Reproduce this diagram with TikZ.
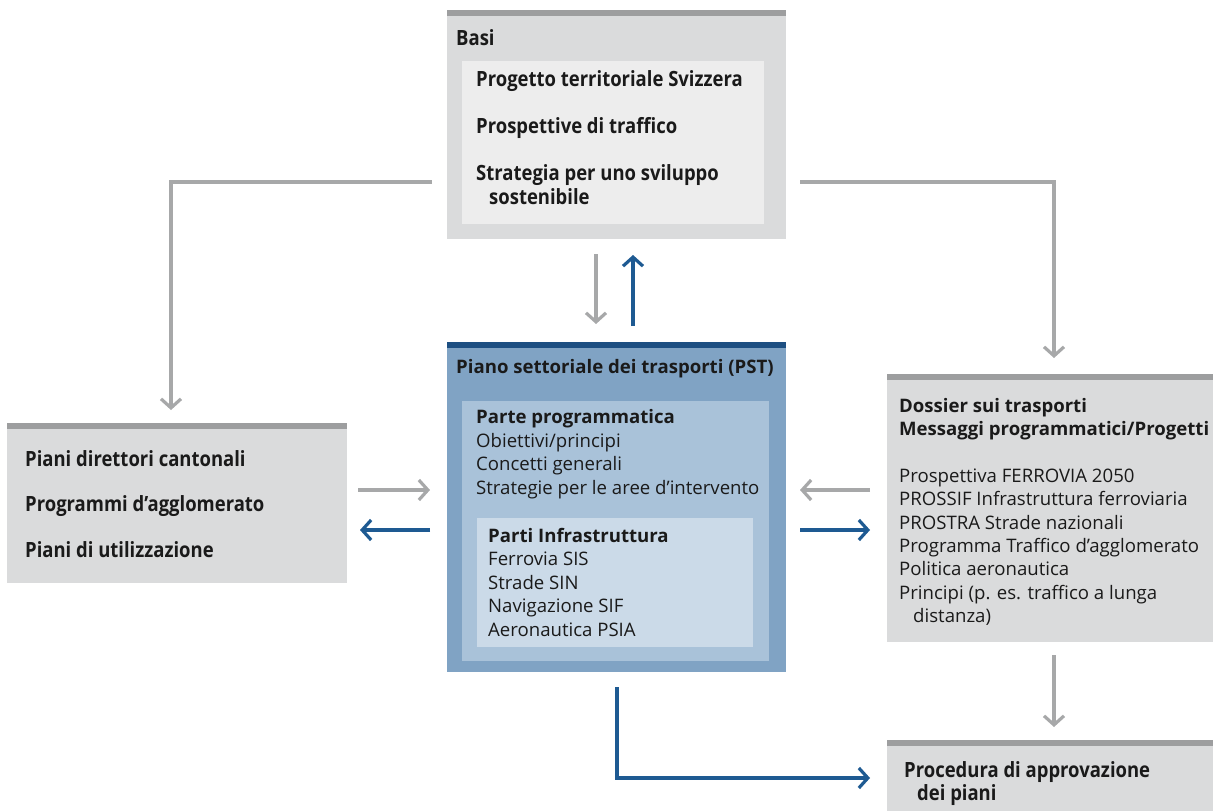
\documentclass[tikz,border=0pt]{standalone}
\usepackage{fontspec}
\setmainfont{Open Sans}
\newfontfamily\bcond{Open Sans}[FakeStretch=0.88]
\usetikzlibrary{arrows.meta,calc}
\definecolor{ink}{HTML}{1A1A1A}
\definecolor{gbox}{HTML}{DADBDC}
\definecolor{gbar}{HTML}{9D9E9F}
\definecolor{ginner}{HTML}{EDEDED}
\definecolor{garrow}{HTML}{A7A8A9}
\definecolor{bouter}{HTML}{80A3C4}
\definecolor{binner}{HTML}{A9C2D9}
\definecolor{binnerb}{HTML}{CBDAE8}
\definecolor{bbar}{HTML}{1D4F82}
\definecolor{barrow}{HTML}{1E5A92}
\begin{document}
\begin{tikzpicture}[x=1pt,y=-1pt,
  box/.style={anchor=north west, inner sep=0pt, outer sep=0pt, draw=none},
  txt/.style={anchor=base west, inner sep=0pt, text=ink, font=\fontsize{18.6}{18.6}\selectfont},
  btxt/.style={txt, font=\fontsize{18.6}{18.6}\selectfont\bfseries},
  ctxt/.style={txt, font=\fontsize{21}{21}\selectfont\bcond\bfseries},
  conn/.style={line width=3.2pt, -{Straight Barb[length=9pt,width=20pt]}},
  gconn/.style={conn, draw=garrow},
  bconn/.style={conn, draw=barrow}]
\useasboundingbox (0,0) rectangle (1213,811);
% Basi
\node[box, fill=gbox, minimum width=339pt, minimum height=229pt] (basi) at (447,10) {};
\fill[gbar] (basi.north west) rectangle ($(basi.north east)+(0,6)$);
\node[box, fill=ginner, minimum width=302pt, minimum height=163pt] (basiin) at (462,61) {};
\node[ctxt] (tbasi) at (456,45) {Basi};
\node[ctxt] (tb1) at (476,86.5) {Progetto territoriale Svizzera};
\node[ctxt] (tb2) at (476,133.5) {Prospettive di traffico};
\node[ctxt] (tb3) at (476,180.5) {Strategia per uno sviluppo};
\node[ctxt] (tb4) at (489,204.5) {sostenibile};
% PST
\node[box, fill=bouter, minimum width=339pt, minimum height=330pt] (pst) at (447,342) {};
\fill[bbar] (pst.north west) rectangle ($(pst.north east)+(0,6)$);
\node[box, fill=binner, minimum width=307pt, minimum height=260pt] (pstin) at (462,401) {};
\node[box, fill=binnerb, minimum width=276pt, minimum height=129pt] (pstinb) at (477,518) {};
\node[btxt] (tp0) at (456,373) {Piano settoriale dei trasporti (PST)};
\node[btxt] (tp1) at (476,423) {Parte programmatica};
\node[txt] (tp2) at (476,447) {Obiettivi/principi};
\node[txt] (tp3) at (476,470.5) {Concetti generali};
\node[txt] (tp4) at (476,494) {Strategie per le aree d’intervento};
\node[btxt] (tp5) at (488,542) {Parti Infrastruttura};
\node[txt] (tp6) at (488,565.5) {Ferrovia SIS};
\node[txt] (tp7) at (488,589) {Strade SIN};
\node[txt] (tp8) at (488,612.5) {Navigazione SIF};
\node[txt] (tp9) at (488,636.5) {Aeronautica PSIA};
% Left
\node[box, fill=gbox, minimum width=340pt, minimum height=160pt] (left) at (7,423) {};
\fill[gbar] (left.north west) rectangle ($(left.north east)+(0,6)$);
\node[ctxt] (tl1) at (25,466) {Piani direttori cantonali};
\node[ctxt] (tl2) at (25,511) {Programmi d’agglomerato};
\node[ctxt] (tl3) at (25,557) {Piani di utilizzazione};
% Dossier
\node[box, fill=gbox, minimum width=340pt, minimum height=268pt] (dos) at (887,374) {};
\fill[gbar] (dos.north west) rectangle ($(dos.north east)+(0,6)$);
\node[btxt] (td1) at (899,412.5) {Dossier sui trasporti};
\node[btxt] (td2) at (899,435.5) {Messaggi programmatici/Progetti};
\node[txt] (td3) at (899,482.5) {Prospettiva FERROVIA 2050};
\node[txt] (td4) at (899,505.5) {PROSSIF Infrastruttura ferroviaria};
\node[txt] (td5) at (899,529) {PROSTRA Strade nazionali};
\node[txt] (td6) at (899,552.5) {Programma Traffico d’agglomerato};
\node[txt] (td7) at (899,575.5) {Politica aeronautica};
\node[txt] (td8) at (899,599) {Principi (p. es. traffico a lunga};
\node[txt] (td9) at (913,622.5) {distanza)};
% Procedure
\node[box, fill=gbox, minimum width=340pt, minimum height=80pt] (proc) at (887,740) {};
\fill[gbar] (proc.north west) rectangle ($(proc.north east)+(0,6)$);
\node[ctxt] (tr1) at (904,777.5) {Procedura di approvazione};
\node[ctxt] (tr2) at (917,800.5) {dei piani};
% connector coordinates
\coordinate (a1) at (432,182); \coordinate (a1e) at (171,410);
\coordinate (a2) at (800,182); \coordinate (a2e) at (1054,358);
\coordinate (a3) at (596,254); \coordinate (a3e) at (596,324);
\coordinate (a4) at (633,326); \coordinate (a4e) at (633,255);
\coordinate (a5) at (358,490); \coordinate (a5e) at (430,490);
\coordinate (a6) at (430,530); \coordinate (a6e) at (360,530);
\coordinate (a7) at (870,490); \coordinate (a7e) at (800,490);
\coordinate (a8) at (800,530); \coordinate (a8e) at (870,530);
\coordinate (a9) at (1054,655); \coordinate (a9e) at (1054,727);
\coordinate (a10) at (617,687); \coordinate (a10e) at (870,778);
\draw[gconn] (a1) -| (a1e);
\draw[gconn] (a2) -| (a2e);
\draw[gconn] (a3) -- (a3e);
\draw[bconn] (a4) -- (a4e);
\draw[gconn] (a5) -- (a5e);
\draw[bconn] (a6) -- (a6e);
\draw[gconn] (a7) -- (a7e);
\draw[bconn] (a8) -- (a8e);
\draw[gconn] (a9) -- (a9e);
\draw[bconn] (a10) |- (a10e);
\end{tikzpicture}
\end{document}
